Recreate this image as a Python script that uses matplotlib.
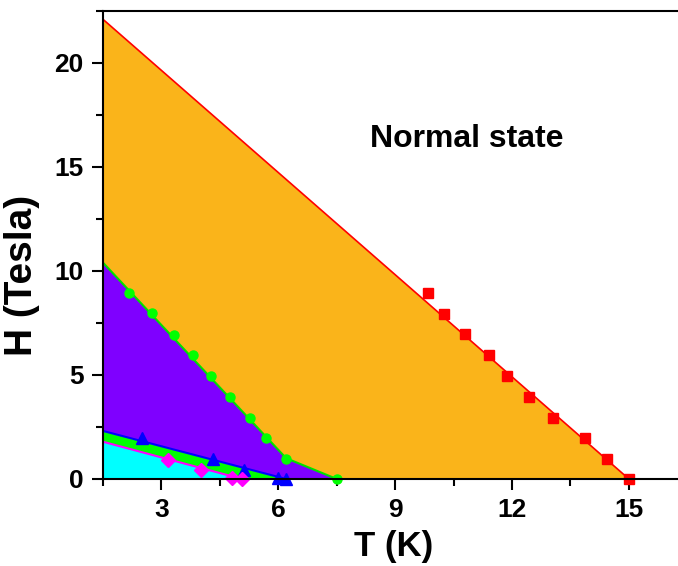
import numpy as np
import matplotlib.pyplot as plt
from matplotlib.ticker import MultipleLocator

plt.rcParams['font.family'] = ['Liberation Sans', 'DejaVu Sans']
plt.rcParams['font.weight'] = 'bold'

# measured points
T_red = [9.85, 10.25, 10.80, 11.40, 11.88, 12.44, 13.04, 13.88, 14.43, 15.0]
H_red = [8.95, 7.95, 6.95, 5.95, 4.95, 3.95, 2.95, 1.95, 0.95, 0.0]
T_green = [2.16, 2.76, 3.33, 3.82, 4.27, 4.75, 5.28, 5.68, 6.20, 7.50]
H_green = [8.96, 7.97, 6.94, 5.95, 4.95, 3.96, 2.95, 1.96, 0.95, 0.0]
T_blue = [2.50, 4.32, 5.12, 5.98, 6.20]
H_blue = [1.96, 0.95, 0.43, 0.03, 0.0]
T_mag = [3.17, 4.02, 4.81, 5.07]
H_mag = [0.91, 0.43, 0.03, 0.0]

# phase boundary lines
T_red_line = [1.5, 15.0]
H_red_line = [22.1, 0.0]
T_green_line = [1.5, 6.2, 7.5]
H_green_line = [10.4, 1.0, 0.0]
T_blue_line = [1.5, 6.2]
H_blue_line = [2.31, 0.0]
T_mag_line = [1.5, 5.07]
H_mag_line = [1.79, 0.0]

fig = plt.figure(figsize=(6.78, 5.66), dpi=100)
ax = fig.add_axes([103 / 678, 87 / 566, 575 / 678, 468 / 566])

t = np.linspace(1.5, 16.3, 2000)
red = np.interp(t, T_red_line, H_red_line, right=0)
green = np.interp(t, T_green_line, H_green_line, right=0)
blue = np.interp(t, T_blue_line, H_blue_line, right=0)
mag = np.interp(t, T_mag_line, H_mag_line, right=0)

ax.fill_between(t, green, red, color='#FAB41A', lw=0)
ax.fill_between(t, blue, green, color='#7F00FF', lw=0)
ax.fill_between(t, mag, blue, color='#00FF00', lw=0)
ax.fill_between(t, 0, mag, color='#00FFFF', lw=0)

ax.plot(T_red_line, H_red_line, color='#FF0000', lw=1.2)
ax.plot(T_green_line, H_green_line, color='#00E000', lw=1.5)
ax.plot(T_blue_line, H_blue_line, color='#0000FF', lw=1.5)
ax.plot(T_mag_line, H_mag_line, color='#FF00FF', lw=1.5)

ax.plot(T_red, H_red, 's', color='#FF0000', ms=7, clip_on=False)
ax.plot(T_green, H_green, 'o', color='#00FF00', ms=6.5, clip_on=False)
ax.plot(T_blue, H_blue, '^', color='#0000FF', ms=8, clip_on=False)
ax.plot(T_mag, H_mag, 'D', color='#FF00FF', ms=7, clip_on=False)

ax.text(10.85, 16.35, 'Normal state', fontsize=23, fontweight='bold',
        ha='center', va='center')

ax.set_xlim(1.5, 16.26)
ax.set_ylim(0, 22.5)
ax.xaxis.set_major_locator(MultipleLocator(3))
ax.xaxis.set_minor_locator(MultipleLocator(1.5))
ax.yaxis.set_major_locator(MultipleLocator(5))
ax.yaxis.set_minor_locator(MultipleLocator(2.5))
ax.tick_params(which='major', direction='out', length=8, width=1.5, labelsize=19, pad=6)
ax.tick_params(which='minor', direction='out', length=5, width=1.5)
ax.spines['right'].set_visible(False)
for s in ['left', 'bottom', 'top']:
    ax.spines[s].set_linewidth(1.5)

ax.set_xlabel('T (K)', fontsize=25, fontweight='bold')
ax.set_ylabel('H (Tesla)', fontsize=28, fontweight='bold')
ax.xaxis.set_label_coords(0.505, -0.11)
ax.yaxis.set_label_coords(-0.109, 0.436)

fig.savefig('out.png', dpi=100)
